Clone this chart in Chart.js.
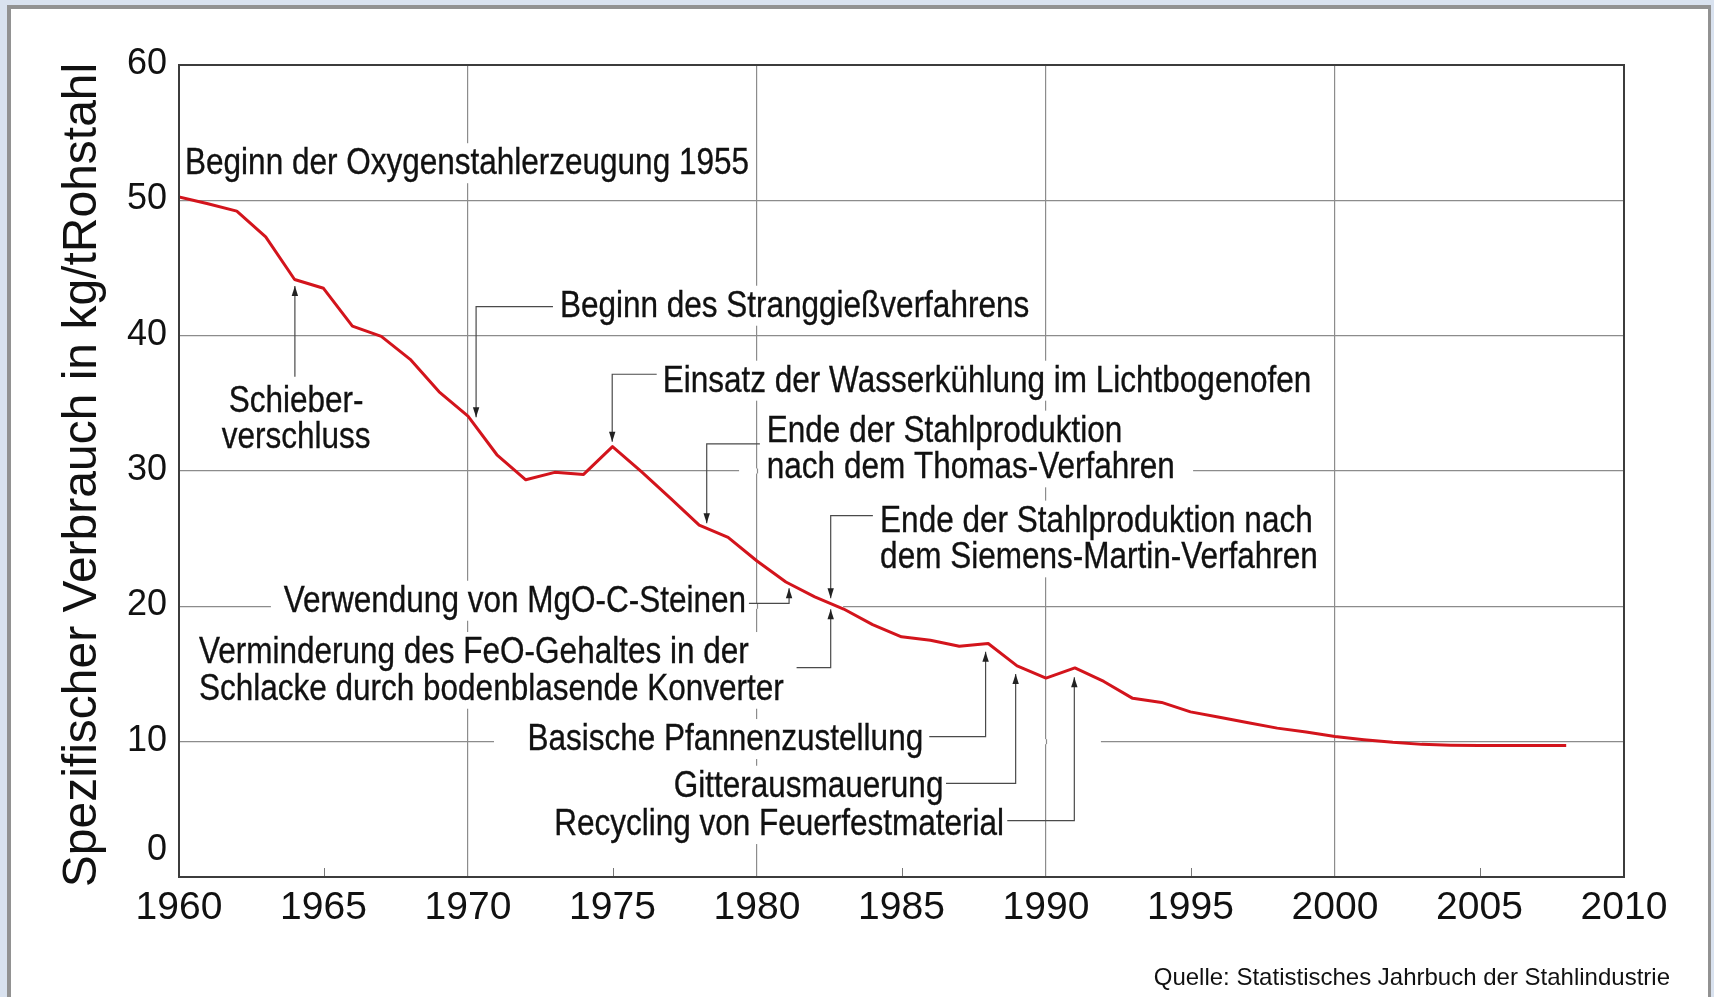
<!DOCTYPE html>
<html>
<head>
<meta charset="utf-8">
<script src="https://cdn.jsdelivr.net/npm/chart.js@4.4.1/dist/chart.umd.min.js"></script>
<style>
  html, body { margin: 0; padding: 0; background: #d9e2ef; }
  canvas { display: block; }
</style>
</head>
<body>
<canvas id="chart" width="1714" height="997"></canvas>
<script>
// Spezifischer Feuerfestverbrauch, kg pro t Rohstahl
const years = [1960, 1961, 1962, 1963, 1964, 1965, 1966, 1967, 1968, 1969,
  1970, 1971, 1972, 1973, 1974, 1975, 1976, 1977, 1978, 1979,
  1980, 1981, 1982, 1983, 1984, 1985, 1986, 1987, 1988, 1989,
  1990, 1991, 1992, 1993, 1994, 1995, 1996, 1997, 1998, 1999,
  2000, 2001, 2002, 2003, 2004, 2005, 2006, 2007, 2008]
const consumption = [50.25, 49.75, 49.2, 47.3, 44.15, 43.5, 40.7, 39.95, 38.25, 35.85,
  34.05, 31.2, 29.35, 29.9, 29.75, 31.8, 29.95, 28.0, 26.0, 25.1,
  23.35, 21.8, 20.7, 19.8, 18.65, 17.75, 17.5, 17.05, 17.25, 15.6,
  14.7, 15.45, 14.45, 13.2, 12.9, 12.2, 11.8, 11.4, 11.0, 10.72,
  10.38, 10.15, 9.95, 9.8, 9.74, 9.72, 9.72, 9.72, 9.72]

const xTickLabels = ['1960', '1965', '1970', '1975', '1980', '1985', '1990', '1995', '2000', '2005', '2010']
const yTickLabels = ['0', '10', '20', '30', '40', '50', '60']
const yTitle = 'Spezifischer Verbrauch in kg/tRohstahl'
const sourceText = 'Quelle: Statistisches Jahrbuch der Stahlindustrie'

// annotations, anchored in axis units (year, kg/t); path ends in the arrow tip
const notes = [
  { lines: ['Beginn der Oxygenstahlerzeugung 1955'], x: 1960.21, y: 51.93, align: 'left' },
  { lines: ['Beginn des Stranggießverfahrens'], x: 1973.18, y: 41.40, align: 'left',
    path: [[1972.94, 42.14], [1970.28, 42.14], [1970.28, 33.97]] },
  { lines: ['Schieber-', 'verschluss'], x: 1964.05, y: 34.38, align: 'center',
    path: [[1964.01, 36.97], [1964.01, 43.67]] },
  { lines: ['Einsatz der Wasserkühlung im Lichtbogenofen'], x: 1976.74, y: 35.86, align: 'left',
    path: [[1976.53, 37.15], [1974.99, 37.15], [1974.99, 32.17]] },
  { lines: ['Ende der Stahlproduktion', 'nach dem Thomas-Verfahren'], x: 1980.34, y: 32.17, align: 'left',
    path: [[1980.10, 32.0], [1978.26, 32.0], [1978.26, 26.14]] },
  { lines: ['Ende der Stahlproduktion nach', 'dem Siemens-Martin-Verfahren'], x: 1984.26, y: 25.52, align: 'left',
    path: [[1984.01, 26.70], [1982.55, 26.70], [1982.55, 20.59]] },
  { lines: ['Verwendung von MgO-C-Steinen'], x: 1979.62, y: 19.60, align: 'right',
    path: [[1979.72, 20.22], [1981.11, 20.22], [1981.11, 21.33]] },
  { lines: ['Verminderung des FeO-Gehaltes in der', 'Schlacke durch bodenblasende Konverter'], x: 1960.69, y: 15.81, align: 'left',
    path: [[1981.37, 15.47], [1982.55, 15.47], [1982.55, 19.78]] },
  { lines: ['Basische Pfannenzustellung'], x: 1985.75, y: 9.38, align: 'right',
    path: [[1985.96, 10.37], [1987.91, 10.37], [1987.91, 16.65]] },
  { lines: ['Gitterausmauerung'], x: 1986.45, y: 5.93, align: 'right',
    path: [[1986.54, 6.92], [1988.95, 6.92], [1988.95, 15.0]] },
  { lines: ['Recycling von Feuerfestmaterial'], x: 1988.55, y: 3.10, align: 'right',
    path: [[1988.66, 4.16], [1990.98, 4.16], [1990.98, 14.76]] }
]

// pieces of horizontal grid lines left out behind the labels
const gridGaps = [
  { value: 30, from: 1979.38, to: 1995.09 },
  { value: 20, from: 1963.18, to: 1982.98 },
  { value: 10, from: 1970.90, to: 1991.90 }
]

const AREA = { left: 179, top: 65, right: 1624, bottom: 877 }
const NOTE_SIZE = 35     // width reference
const NOTE_HEIGHT = 37   // drawn size, squeezed back to the width above
const LINE_GAP = 36.7
const INK = '#111'
const GRID = '#8c8c8c'

// condensed grotesk: narrow face, fitted to 0.9 of the regular width
function noteWidth(ctx, text) {
  ctx.font = NOTE_SIZE + 'px "Liberation Sans", Arial, sans-serif'
  return ctx.measureText(text).width * 0.9
}

function condensedText(ctx, text, x, y, align) {
  const target = noteWidth(ctx, text)
  ctx.font = NOTE_HEIGHT + 'px "Liberation Sans Narrow", "Arial Narrow", "Liberation Sans", sans-serif'
  const w = ctx.measureText(text).width
  let x0 = x
  if (align === 'right') x0 = x - target
  if (align === 'center') x0 = x - target / 2
  ctx.save()
  ctx.translate(x0, y)
  ctx.scale(target / w, 1)
  ctx.textAlign = 'left'
  ctx.textBaseline = 'alphabetic'
  ctx.fillStyle = INK
  ctx.strokeStyle = INK
  ctx.lineWidth = 0.35
  ctx.fillText(text, 0, 0)
  ctx.strokeText(text, 0, 0)
  ctx.restore()
}

const framePlugin = {
  id: 'frame',
  beforeDraw(chart) {
    const ctx = chart.ctx
    ctx.save()
    ctx.fillStyle = '#d9e2ef'
    ctx.fillRect(0, 0, chart.width, chart.height)
    ctx.fillStyle = '#ffffff'
    ctx.fillRect(11, 9, 1697, chart.height - 9)
    ctx.fillStyle = '#929292'
    ctx.fillRect(7, 5, 1704, 4)
    ctx.fillRect(7, 5, 4, chart.height - 5)
    ctx.fillRect(1708, 5, 3, chart.height - 5)
    ctx.restore()
  }
}

const notesPlugin = {
  id: 'notes',
  beforeDatasetsDraw(chart) {
    const ctx = chart.ctx
    const xs = chart.scales.x, ys = chart.scales.y
    const X = v => xs.getPixelForValue(v)
    const Y = v => ys.getPixelForValue(v)
    ctx.save()
    // cut the horizontal grid, then put back the vertical grid lines that cross the cut
    gridGaps.forEach(g => {
      const x0 = X(g.from), x1 = X(g.to), yy = Y(g.value)
      ctx.fillStyle = '#ffffff'
      ctx.fillRect(x0, yy - 2.5, x1 - x0, 5)
      ctx.strokeStyle = GRID
      ctx.lineWidth = 1.2
      xs.ticks.forEach(t => {
        if (t.value <= 1960 || t.value >= 2010) return
        const px = X(t.value)
        if (px < x0 || px > x1) return
        ctx.beginPath()
        ctx.moveTo(Math.round(px) + 0.5, yy - 2.5)
        ctx.lineTo(Math.round(px) + 0.5, yy + 2.5)
        ctx.stroke()
      })
    })
    // white boxes behind the labels hide the grid
    notes.forEach(n => {
      let left = Infinity, right = -Infinity
      n.lines.forEach(t => {
        const w = noteWidth(ctx, t)
        let x0 = X(n.x)
        if (n.align === 'right') x0 -= w
        if (n.align === 'center') x0 -= w / 2
        left = Math.min(left, x0)
        right = Math.max(right, x0 + w)
      })
      const top = Y(n.y) - 31
      const bottom = Y(n.y) + (n.lines.length - 1) * LINE_GAP + 9
      ctx.fillStyle = '#ffffff'
      ctx.fillRect(left - 5, top, right - left + 10, bottom - top)
    })
    // connectors with arrow heads
    ctx.strokeStyle = '#4a4a4a'
    ctx.fillStyle = '#222'
    ctx.lineWidth = 1.2
    notes.forEach(n => {
      if (!n.path) return
      const pts = n.path.map(p => [X(p[0]), Y(p[1])])
      ctx.beginPath()
      pts.forEach((p, i) => i ? ctx.lineTo(p[0], p[1]) : ctx.moveTo(p[0], p[1]))
      ctx.stroke()
      const [ax, ay] = pts[pts.length - 1]
      const [bx, by] = pts[pts.length - 2]
      const ang = Math.atan2(ay - by, ax - bx)
      ctx.save()
      ctx.translate(ax, ay)
      ctx.rotate(ang)
      ctx.beginPath()
      ctx.moveTo(0, 0)
      ctx.lineTo(-10, -3.2)
      ctx.lineTo(-10, 3.2)
      ctx.closePath()
      ctx.fill()
      ctx.restore()
    })
    notes.forEach(n => {
      n.lines.forEach((t, i) => {
        condensedText(ctx, t, X(n.x), Y(n.y) + i * LINE_GAP, n.align)
      })
    })
    // short inner ticks at the half decades
    ctx.strokeStyle = '#777'
    ctx.lineWidth = 1
    xTickLabels.forEach(l => {
      const v = Number(l)
      if (v % 10 !== 5) return
      const px = Math.round(X(v)) + 0.5
      ctx.beginPath()
      ctx.moveTo(px, chart.chartArea.bottom)
      ctx.lineTo(px, chart.chartArea.bottom - 9)
      ctx.stroke()
    })
    ctx.restore()
  },
  afterDatasetsDraw(chart) {
    const ctx = chart.ctx
    const a = chart.chartArea
    ctx.save()
    ctx.strokeStyle = '#3c3c3c'
    ctx.lineWidth = 2
    ctx.strokeRect(a.left, a.top, a.right - a.left, a.bottom - a.top)
    ctx.restore()
  },
  afterDraw(chart) {
    const ctx = chart.ctx
    const xs = chart.scales.x, ys = chart.scales.y
    ctx.save()
    ctx.fillStyle = INK
    ctx.font = '39px "Liberation Sans", Arial, sans-serif'
    ctx.textAlign = 'center'
    ctx.textBaseline = 'alphabetic'
    xTickLabels.forEach(l => {
      ctx.fillText(l, xs.getPixelForValue(Number(l)), 918.5)
    })
    ctx.font = '36px "Liberation Sans", Arial, sans-serif'
    ctx.textAlign = 'right'
    ctx.textBaseline = 'middle'
    yTickLabels.forEach(l => {
      const v = Number(l)
      // the zero is lifted clear of the year labels
      const lift = v === 0 ? 27 : 1
      ctx.fillText(l, 167, ys.getPixelForValue(v) - lift)
    })
    ctx.save()
    ctx.translate(96, (chart.chartArea.top + chart.chartArea.bottom) / 2 + 4)
    ctx.rotate(-Math.PI / 2)
    ctx.font = '48px "Liberation Sans", Arial, sans-serif'
    ctx.textAlign = 'center'
    ctx.textBaseline = 'alphabetic'
    ctx.fillText(yTitle, 0, 0)
    ctx.restore()
    ctx.font = '24px "Liberation Sans", Arial, sans-serif'
    ctx.textAlign = 'right'
    ctx.textBaseline = 'alphabetic'
    ctx.fillText(sourceText, 1670, 985)
    ctx.restore()
  }
}

const gridColor = (skip) => (c) => skip.includes(c.tick.value) ? 'rgba(0,0,0,0)' : GRID

const chart = new Chart(document.getElementById('chart').getContext('2d'), {
  type: 'line',
  data: {
    datasets: [{
      label: 'kg/t Rohstahl',
      data: years.map((y, i) => ({ x: y, y: consumption[i] })),
      borderColor: '#d3141c',
      borderWidth: 3,
      borderJoinStyle: 'round',
      pointRadius: 0,
      tension: 0,
      fill: false
    }]
  },
  options: {
    responsive: false,
    animation: false,
    devicePixelRatio: 1,
    layout: { padding: { left: AREA.left, top: AREA.top, right: 1714 - AREA.right, bottom: 997 - AREA.bottom } },
    plugins: { legend: { display: false }, tooltip: { enabled: false } },
    scales: {
      x: {
        type: 'linear', min: 1960, max: 2010,
        ticks: { display: false, stepSize: 10 },
        border: { display: false },
        grid: { drawTicks: false, lineWidth: 1.2, color: gridColor([1960, 2010]) }
      },
      y: {
        type: 'linear', min: 0, max: 60,
        ticks: { display: false, stepSize: 10 },
        border: { display: false },
        grid: { drawTicks: false, lineWidth: 1.2, color: gridColor([0, 60]) }
      }
    }
  },
  plugins: [framePlugin, notesPlugin]
})

// nudge the padding so the plot area lands where the reference has it
const ca = chart.chartArea
const pad = chart.options.layout.padding
pad.left += AREA.left - ca.left
pad.top += AREA.top - ca.top
pad.right += ca.right - AREA.right
pad.bottom += ca.bottom - AREA.bottom
chart.update('none')
</script>
</body>
</html>
